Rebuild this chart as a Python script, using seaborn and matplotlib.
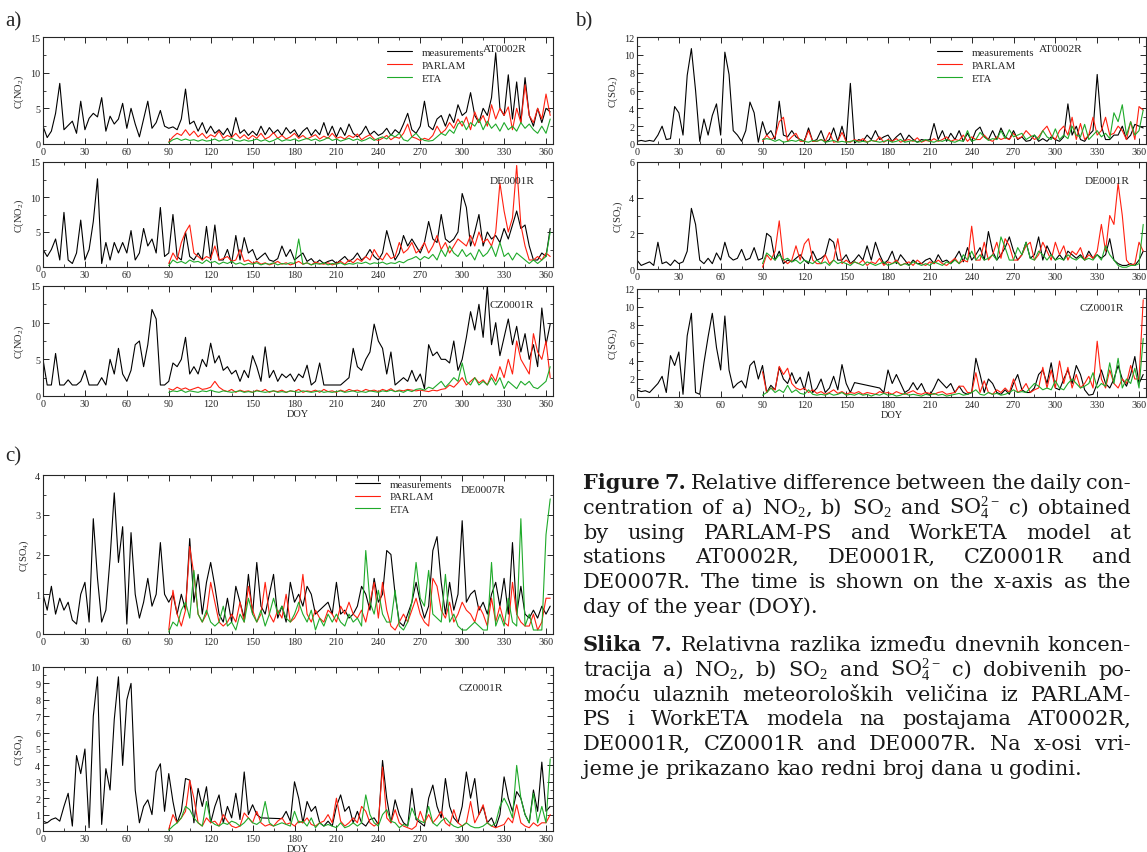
import numpy as np
import pandas as pd
import matplotlib
matplotlib.use("Agg")
import matplotlib.pyplot as plt
import seaborn as sns
from matplotlib.ticker import MultipleLocator

# ---------------- data (3-day samples) ----------------
STEP = 3
MEAS_START = 0
MODEL_START = 90
nan = np.nan

# a) NO2, AT0002R
at_no2_meas = [2.5, 0.9, 1.8, 4.3, 8.5, 2.0, 2.6, 3.2, 1.5, 6.0,
               2.0, 3.6, 4.3, 3.8, 6.5, 1.8, 3.9, 2.8, 3.5, 5.7,
               2.2, 5.0, 2.8, 1.0, 3.5, 6.0, 2.2, 3.0, 4.7, 2.5,
               2.2, 2.4, 2.0, 3.5, 7.7, 2.8, 3.2, 1.8, 3.0, 1.5,
               2.5, 1.5, 2.0, 1.3, 2.2, 1.0, 3.7, 1.5, 2.0, 1.2,
               1.8, 1.2, 2.5, 1.3, 2.3, 1.5, 2.0, 1.2, 2.3, 1.5,
               2.0, 1.0, 1.8, 2.3, 1.2, 2.0, 1.3, 3.0, 1.2, 2.5,
               1.0, 2.3, 1.2, 2.8, 1.5, 1.0, 1.5, 2.5, 1.3, 1.8,
               1.2, 1.5, 2.2, 1.2, 2.0, 1.5, 2.8, 4.3, 2.0, 1.5,
               2.5, 6.0, 2.5, 2.0, 3.5, 4.0, 2.5, 4.2, 3.0, 5.5,
               4.0, 4.5, 7.2, 4.0, 3.0, 5.0, 4.0, 6.5, 12.8, 5.0,
               4.0, 9.7, 3.5, 8.7, 3.0, 9.3, 4.0, 2.5, 5.0, 3.0,
               5.0, 4.5]
at_no2_parlam = [0.3, 1.0, 1.5, 1.2, 2.0, 1.2, 1.8, 1.0, 1.5, 0.8,
                 1.3, 1.0, 1.8, 0.8, 1.2, 0.9, 1.5, 0.8, 1.3, 0.7,
                 1.2, 0.8, 1.5, 0.7, 1.0, 1.6, 0.8, 1.2, 0.7, 1.0,
                 1.5, 0.8, 1.2, 0.7, 1.0, 1.3, 0.7, 1.1, 0.8, 1.5,
                 0.8, 1.0, 0.7, 1.2, 0.9, 1.4, 0.6, 1.0, 1.3, 0.7,
                 0.5, 0.8, 1.2, 0.6, 1.0, 0.8, 1.5, 2.8, 1.0, 0.8,
                 0.5, 0.8, 0.6, 1.2, 2.5, 1.5, 2.0, 3.0, 2.2, 3.5,
                 2.5, 3.8, 2.0, 4.5, 3.0, 4.0, 2.5, 5.5, 3.5, 5.0,
                 4.0, 5.2, 2.0, 5.0, 3.0, 8.3, 4.0, 3.0, 5.0, 3.5,
                 7.0, 4.0]
at_no2_eta = [0.2, 0.6, 0.8, 0.5, 0.7, 0.5, 0.6, 0.4, 0.6, 0.4,
              0.5, 0.7, 0.4, 0.6, 0.5, 0.8, 0.5, 0.4, 0.6, 0.4,
              0.5, 0.7, 0.4, 0.6, 0.3, 0.5, 0.8, 0.4, 0.6, 0.5,
              0.7, 0.4, 0.6, 0.8, 0.5, 0.7, 0.4, 0.6, 0.9, 0.5,
              0.7, 0.4, 0.6, 0.8, 0.5, 0.7, 0.4, 0.6, 0.9, 0.5,
              0.8, 1.0, 0.7, 1.3, 1.0, 1.5, 0.6, 0.4, 1.0, 1.5,
              0.8, 0.5, 0.4, 0.5, 1.0, 1.5, 1.2, 2.0, 1.5, 2.8,
              3.2, 2.0, 3.0, 2.5, 3.5, 2.0, 3.2, 2.2, 2.8, 1.8,
              3.0, 2.0, 2.5, 1.8, 3.0, 2.2, 2.8, 2.0, 1.5, 2.5,
              1.5, 3.5]

# a) NO2, DE0001R
de_no2_meas = [2.5, 1.5, 2.5, 4.0, 1.0, 7.8, 1.0, 0.5, 2.0, 6.7,
               1.0, 2.5, 6.5, 12.6, 0.5, 3.5, 1.0, 3.5, 2.0, 3.5,
               2.0, 5.2, 1.0, 2.0, 5.5, 3.0, 4.0, 2.0, 8.5, 1.5,
               2.0, 7.5, 1.5, 1.0, 5.0, 1.5, 1.0, 2.0, 1.0, 5.8,
               1.0, 6.0, 1.0, 1.0, 2.5, 0.5, 4.5, 1.0, 4.2, 2.0,
               2.5, 1.0, 1.5, 2.0, 1.0, 0.8, 1.2, 3.0, 1.5, 2.5,
               1.0, 1.5, 2.0, 0.8, 1.2, 0.5, 1.0, 0.5, 0.8, 1.0,
               0.5, 1.0, 1.5, 0.8, 1.2, 2.0, 1.0, 1.5, 2.5, 1.5,
               1.0, 2.0, 5.2, 3.0, 1.0, 2.0, 4.5, 3.0, 4.0, 3.0,
               2.0, 3.5, 6.5, 4.0, 3.5, 7.5, 4.0, 3.5, 4.0, 5.0,
               10.5, 8.5, 3.0, 5.0, 7.5, 3.0, 5.0, 4.0, 4.5, 3.5,
               5.5, 4.0, 6.0, 8.0, 5.5, 6.0, 3.0, 1.0, 1.0, 2.0,
               1.5, 5.5]
de_no2_parlam = [0.5, 2.0, 1.0, 3.5, 5.0, 6.0, 2.0, 1.5, 1.0, 1.5,
                 1.2, 3.0, 1.0, 1.2, 1.5, 0.8, 1.0, 2.5, 0.8, 1.0,
                 0.5, 0.8, 0.4, 0.6, 0.3, 0.5, 0.8, 0.4, 0.6, 0.3,
                 0.5, 0.8, 0.4, 0.6, 0.3, 0.7, 0.5, 0.4, 0.6, 0.3,
                 0.5, 0.8, 0.4, 1.0, 0.6, 1.2, 0.8, 1.5, 1.0, 2.5,
                 1.5, 1.0, 2.0, 1.2, 1.5, 3.5, 2.0, 2.5, 3.5, 2.0,
                 2.5, 3.5, 2.0, 3.0, 4.5, 2.5, 3.5, 2.0, 3.0, 4.0,
                 3.5, 3.0, 4.5, 3.0, 5.0, 3.5, 4.0, 3.0, 5.0, 12.0,
                 8.0, 5.0, 7.0, 14.5, 6.0, 3.0, 1.0, 1.0, 1.5, 1.0,
                 2.0, 1.5]
de_no2_eta = [0.2, 1.0, 0.6, 0.8, 0.5, 1.0, 0.7, 0.8, 0.5, 1.0,
              0.6, 0.8, 0.4, 0.7, 0.5, 0.8, 0.4, 0.6, 0.3, 0.5,
              0.4, 0.6, 0.3, 0.5, 0.4, 0.6, 0.3, 0.5, 0.4, 0.6,
              0.5, 4.0, 0.4, 0.6, 0.3, 0.5, 0.4, 0.6, 0.3, 0.5,
              0.4, 0.6, 0.3, 0.5, 0.4, 0.6, 0.5, 0.7, 0.4, 0.6,
              0.5, 0.7, 0.4, 0.6, 0.5, 0.8, 0.6, 1.0, 1.2, 1.5,
              1.0, 1.5, 1.2, 1.8, 1.0, 2.5, 1.5, 3.0, 2.0, 1.5,
              2.5, 1.5, 2.0, 1.0, 2.5, 1.5, 2.0, 3.0, 1.5, 3.5,
              1.5, 2.0, 1.0, 2.0, 1.5, 1.0, 0.5, 1.0, 0.5, 1.0,
              1.5, 5.0]

# a) NO2, CZ0001R
cz_no2_meas = [5.0, 1.5, 1.5, 5.8, 1.5, 1.5, 2.2, 1.5, 1.5, 2.0,
               3.5, 1.5, 1.5, 1.5, 2.5, 1.5, 5.0, 3.0, 6.5, 3.0,
               2.0, 3.5, 7.0, 7.5, 4.0, 7.0, 11.8, 10.5, 1.5, 1.5,
               2.0, 4.5, 4.0, 5.0, 8.0, 3.0, 4.0, 3.0, 5.0, 4.0,
               7.2, 4.5, 5.5, 3.5, 4.0, 3.0, 3.5, 2.0, 3.5, 2.5,
               5.5, 4.0, 2.0, 6.7, 2.5, 3.5, 2.0, 3.0, 2.5, 3.0,
               2.0, 3.0, 2.5, 4.2, 1.5, 2.0, 4.5, 1.5, 1.5, 1.5,
               1.5, 1.5, 2.0, 2.5, 6.5, 4.0, 3.5, 5.0, 6.0, 9.8,
               7.5, 6.5, 3.0, 6.0, 1.5, 2.0, 2.5, 2.0, 3.5, 2.0,
               3.0, 1.0, 7.0, 5.5, 6.0, 5.0, 5.0, 4.5, 7.5, 3.5,
               5.0, 8.0, 11.5, 9.0, 12.5, 8.0, 15.0, 7.0, 10.0, 5.5,
               8.0, 10.5, 7.0, 9.5, 6.0, 8.5, 5.0, 7.0, 4.0, 12.0,
               7.0, 9.8]
cz_no2_parlam = [1.0, 0.8, 1.2, 0.9, 1.1, 0.8, 1.0, 1.2, 0.9, 1.0,
                 1.2, 2.0, 1.2, 0.8, 0.6, 0.9, 0.5, 0.8, 0.6, 0.7,
                 0.5, 0.8, 0.6, 0.9, 0.5, 0.7, 0.6, 0.8, 0.5, 0.7,
                 0.6, 0.9, 0.5, 0.7, 0.6, 0.8, 0.5, 0.9, 0.6, 0.7,
                 0.5, 0.8, 0.6, 0.9, 0.7, 0.8, 0.6, 0.9, 0.7, 0.8,
                 0.6, 0.9, 0.7, 1.0, 0.6, 0.8, 0.7, 0.9, 0.8, 0.7,
                 0.8, 0.7, 0.6, 0.8, 0.7, 0.9, 1.0, 1.5, 1.2, 1.8,
                 2.5, 1.5, 2.0, 2.5, 1.8, 2.2, 1.5, 3.0, 2.0, 4.0,
                 2.5, 5.0, 3.0, 7.5, 5.0, 4.0, 3.0, 8.5, 6.0, 5.0,
                 7.5, 2.5]
cz_no2_eta = [0.5, 0.7, 0.6, 0.8, 0.5, 0.7, 0.6, 0.5, 0.7, 0.6,
              0.8, 0.6, 0.5, 0.7, 0.6, 0.5, 0.6, 0.7, 0.5, 0.6,
              0.5, 0.7, 0.6, 0.5, 0.6, 0.7, 0.5, 0.6, 0.5, 0.7,
              0.6, 0.5, 0.7, 0.6, 0.5, 0.6, 0.7, 0.5, 0.6, 0.5,
              0.6, 0.7, 0.5, 0.6, 0.7, 0.5, 0.6, 0.5, 0.7, 0.6,
              0.5, 0.7, 0.6, 0.8, 0.6, 0.7, 0.5, 0.8, 0.6, 0.9,
              1.0, 0.8, 1.2, 1.0, 1.5, 2.0, 1.2, 1.8, 2.5, 2.0,
              4.5, 2.0, 1.5, 2.5, 1.5, 2.0, 1.5, 2.5, 1.5, 2.5,
              1.0, 2.0, 1.5, 1.0, 2.0, 1.5, 2.0, 1.2, 1.0, 1.5,
              2.0, 4.0]

# b) SO2, AT0002R
at_so2_meas = [0.3, 0.4, 0.3, 0.4, 0.3, 1.0, 2.0, 0.5, 0.6, 4.2,
               3.5, 1.0, 7.7, 10.7, 6.0, 0.3, 2.8, 1.0, 3.2, 4.5,
               1.0, 10.3, 7.8, 1.5, 1.0, 0.3, 1.5, 4.7, 3.5, 0.2,
               2.5, 1.0, 1.5, 0.5, 4.8, 1.0, 0.8, 1.5, 0.8, 0.5,
               0.3, 1.8, 0.3, 0.5, 1.5, 0.2, 0.5, 1.8, 0.3, 2.0,
               0.2, 6.8, 0.1, 0.5, 0.3, 1.0, 0.5, 1.5, 0.5, 0.8,
               1.0, 0.3, 0.8, 1.2, 0.3, 1.0, 0.5, 0.2, 0.5, 0.4,
               0.5, 2.3, 0.5, 1.5, 0.3, 1.2, 0.5, 1.5, 0.3, 1.2,
               0.3, 1.5, 1.9, 0.8, 0.5, 1.5, 0.5, 1.8, 0.8, 0.5,
               1.5, 0.5, 0.8, 0.3, 0.4, 1.0, 0.3, 0.6, 0.3, 0.8,
               0.5, 0.3, 0.8, 4.5, 1.0, 2.0, 0.5, 0.3, 1.0, 1.5,
               7.8, 2.0, 0.5, 0.5, 1.0, 1.0, 2.0, 0.5, 1.0, 2.2,
               2.0, 1.8]
at_so2_parlam = [0.3, 1.0, 0.5, 0.8, 2.5, 3.0, 0.3, 0.8, 1.2, 0.3,
                 0.3, 1.5, 0.3, 0.3, 0.5, 0.3, 1.3, 0.2, 0.3, 1.3,
                 0.3, 0.2, 0.5, 0.3, 0.6, 0.2, 0.4, 0.3, 0.8, 0.2,
                 0.5, 0.3, 0.6, 0.2, 0.4, 0.5, 0.3, 0.7, 0.2, 0.4,
                 0.3, 0.6, 0.3, 0.5, 0.8, 0.3, 0.5, 0.4, 1.0, 0.3,
                 0.8, 0.5, 0.5, 1.0, 0.5, 0.3, 0.8, 0.5, 0.7, 0.5,
                 1.2, 0.6, 0.8, 1.5, 1.0, 0.5, 0.8, 1.5, 2.0, 1.0,
                 0.5, 1.5, 2.0, 1.0, 3.0, 0.5, 2.3, 0.5, 1.0, 3.0,
                 1.0, 1.5, 3.0, 1.0, 1.2, 2.0, 1.5, 0.5, 2.5, 0.5,
                 4.2, 3.8]
at_so2_eta = [0.5, 0.6, 0.5, 0.3, 0.5, 0.2, 0.3, 0.4, 0.3, 0.5,
              0.3, 0.2, 0.4, 0.3, 0.5, 0.2, 0.3, 0.4, 0.2, 0.3,
              0.2, 0.3, 0.4, 0.2, 0.3, 0.2, 0.4, 0.3, 0.2, 0.3,
              0.4, 0.2, 0.3, 0.5, 0.2, 0.3, 0.4, 0.2, 0.3, 0.5,
              0.3, 0.2, 0.4, 0.3, 0.5, 0.3, 0.2, 0.4, 0.3, 1.5,
              0.3, 0.5, 1.3, 0.8, 0.4, 0.6, 0.5, 1.5, 0.6, 1.6,
              0.8, 1.0, 1.2, 0.5, 0.8, 1.0, 0.5, 1.5, 0.8, 0.5,
              1.7, 0.5, 1.0, 0.6, 2.0, 1.0, 0.8, 2.2, 0.5, 1.0,
              1.5, 0.8, 1.2, 0.6, 3.5, 2.5, 4.4, 1.0, 2.5, 1.0,
              1.5, 3.8]

# b) SO2, DE0001R
de_so2_meas = [0.5, 0.2, 0.3, 0.4, 0.2, 1.5, 0.3, 0.4, 0.2, 0.5,
               0.3, 0.4, 1.0, 3.4, 2.5, 0.5, 0.3, 0.6, 0.3, 0.9,
               0.5, 1.5, 0.7, 0.5, 0.6, 1.1, 0.5, 0.6, 1.2, 0.5,
               0.6, 2.0, 1.8, 0.5, 1.0, 0.3, 0.5, 0.4, 0.6, 0.8,
               0.5, 0.3, 1.0, 0.5, 0.6, 0.8, 1.7, 1.5, 0.5, 0.5,
               0.8, 0.3, 0.5, 0.8, 0.5, 1.3, 0.5, 1.5, 0.8, 0.3,
               0.5, 1.0, 0.3, 0.8, 0.5, 0.2, 0.5, 0.3, 0.3, 0.5,
               0.6, 0.3, 0.8, 0.4, 0.5, 0.3, 0.6, 1.0, 0.4, 1.2,
               0.5, 0.8, 1.2, 0.5, 2.1, 1.0, 0.5, 0.8, 1.2, 1.8,
               1.0, 0.5, 0.8, 1.5, 0.6, 0.8, 1.8, 0.5, 1.3, 0.8,
               0.5, 0.8, 0.5, 1.0, 0.8, 0.6, 0.8, 0.5, 1.0, 0.6,
               0.8, 0.6, 0.8, 1.7, 0.5, 0.3, 0.2, 0.2, 0.3, 0.2,
               0.5, 1.0]
de_so2_parlam = [0.1, 0.8, 0.5, 1.0, 2.7, 0.5, 0.3, 0.5, 1.3, 0.5,
                 1.4, 1.7, 0.5, 0.3, 0.3, 0.8, 0.3, 0.5, 1.7, 0.3,
                 0.5, 0.3, 0.4, 0.3, 0.5, 0.2, 0.4, 0.3, 0.6, 0.2,
                 0.4, 0.3, 0.5, 0.2, 0.3, 0.4, 0.2, 0.5, 0.3, 0.2,
                 0.4, 0.3, 0.5, 0.3, 0.2, 0.4, 0.6, 0.3, 0.5, 0.4,
                 2.4, 0.5, 0.5, 1.5, 0.5, 0.8, 1.5, 0.6, 1.7, 1.3,
                 0.5, 0.5, 0.8, 1.3, 1.5, 0.5, 0.8, 1.5, 1.0, 0.5,
                 1.5, 0.8, 1.3, 0.5, 1.0, 0.8, 1.2, 0.5, 0.8, 0.6,
                 1.0, 2.5, 1.0, 3.0, 2.5, 4.8, 3.0, 0.5, 0.2, 0.3,
                 1.5, 1.0]
de_so2_eta = [0.3, 0.9, 0.7, 0.5, 0.8, 0.5, 0.6, 0.4, 0.5, 0.3,
              0.5, 0.4, 0.3, 0.5, 0.3, 0.4, 0.2, 0.5, 0.3, 0.4,
              0.3, 0.2, 0.4, 0.3, 0.2, 0.4, 0.3, 0.2, 0.3, 0.4,
              0.2, 0.3, 0.4, 0.2, 0.3, 0.2, 0.4, 0.3, 0.2, 0.3,
              0.2, 0.4, 0.3, 0.2, 0.4, 0.3, 0.5, 0.3, 0.8, 0.5,
              1.0, 0.5, 0.8, 0.5, 0.6, 0.8, 0.5, 1.8, 1.2, 0.5,
              0.5, 1.2, 0.8, 1.5, 0.6, 0.5, 1.0, 0.8, 0.5, 0.8,
              0.5, 0.6, 0.5, 0.8, 0.6, 0.5, 0.7, 0.5, 0.6, 0.5,
              0.8, 0.5, 1.3, 0.8, 0.5, 0.2, 0.1, 0.1, 0.2, 0.2,
              0.3, 2.5]

# b) SO2, CZ0001R (nan = missing days)
cz_so2_meas = [0.8, 0.6, 0.7, 0.5, 1.0, 1.5, 2.3, 0.5, 4.6, 3.5,
               5.0, 0.3, 6.8, 9.3, 0.5, 0.3, 3.8, 6.7, 9.3, 5.5,
               3.0, 9.0, 3.0, 1.0, 1.5, 1.8, 1.0, 3.5, 4.0, 2.0,
               3.5, 0.5, 1.3, 0.8, 3.3, 2.0, 1.5, 2.7, 1.5, 2.2,
               0.8, 2.8, 0.5, 1.0, 2.0, 0.5, 1.0, 2.3, 0.8, 3.6,
               1.5, 0.5, 1.6, nan, nan, nan, nan, nan, 1.0, 0.5,
               3.0, 1.5, 2.5, 1.5, 0.5, 0.8, 1.6, 0.8, 1.5, 0.5,
               0.2, 1.0, 2.0, 1.5, 1.0, 1.5, 0.5, 1.2, 0.5, 0.3,
               0.5, 4.3, 2.5, 0.5, 2.0, 1.5, 0.5, 0.3, 0.8, 0.3,
               1.5, 2.5, 0.8, 0.5, 0.5, 1.0, 2.5, 3.0, 1.5, 3.8,
               1.0, 0.8, 2.0, 3.0, 1.5, 3.5, 2.5, 0.8, 0.2, 0.3,
               1.5, 3.0, 1.5, 1.0, 2.0, 3.5, 2.0, 1.2, 2.5, 4.5,
               1.5, 2.5]
cz_so2_parlam = [2.8, 0.5, 1.0, 0.8, 3.4, 2.5, 3.2, 1.5, 1.0, 0.8,
                 1.0, 0.5, 0.8, 0.4, 0.6, 0.3, 0.5, 0.8, 0.4, 0.6,
                 0.3, 0.5, 0.4, 0.6, 0.3, 0.5, 0.4, 0.3, 0.6, 0.4,
                 0.5, 0.3, 0.6, 0.4, 0.3, 0.5, 0.7, 0.4, 0.3, 0.5,
                 0.4, 0.3, 0.5, 0.6, 0.3, 0.4, 0.5, 1.2, 1.2, 0.5,
                 0.5, 2.7, 0.5, 1.8, 0.5, 0.3, 0.8, 0.5, 1.0, 0.5,
                 2.0, 0.5, 0.8, 1.5, 0.5, 0.8, 1.0, 3.3, 1.0, 3.0,
                 1.0, 4.0, 1.5, 3.3, 1.0, 2.5, 1.0, 1.5, 2.3, 1.0,
                 6.2, 2.0, 1.0, 3.0, 1.5, 1.0, 2.0, 1.5, 3.5, 2.0,
                 2.0, 10.8]
cz_so2_eta = [0.2, 0.5, 1.0, 0.5, 0.8, 0.5, 1.3, 0.5, 0.8, 0.4,
              0.3, 0.8, 0.3, 0.2, 0.3, 0.2, 0.4, 0.2, 0.3, 0.5,
              0.2, 0.3, 0.2, 0.4, 0.2, 0.3, 0.1, 0.3, 0.2, 0.4,
              0.2, 0.3, 0.1, 0.2, 0.4, 0.2, 0.3, 0.2, 0.1, 0.3,
              0.2, 0.4, 0.2, 0.3, 0.1, 0.2, 0.3, 0.4, 0.2, 0.3,
              0.5, 0.8, 0.3, 0.2, 0.5, 0.3, 0.4, 0.2, 0.3, 0.5,
              0.8, 0.5, 0.6, 0.5, 1.0, 1.5, 1.2, 0.8, 1.0, 0.8,
              1.8, 1.0, 0.8, 1.5, 2.0, 1.5, 1.0, 1.2, 1.5, 2.7,
              1.0, 1.5, 1.2, 3.8, 1.5, 4.3, 1.0, 2.0, 1.5, 3.2,
              1.0, 6.5]

# c) SO4, DE0007R
de_so4_meas = [1.0, 0.6, 1.2, 0.5, 0.9, 0.6, 0.8, 0.35, 0.25, 1.0,
               1.3, 0.3, 2.9, 1.4, 0.3, 0.6, 1.9, 3.55, 1.8, 2.7,
               0.25, 2.55, 1.0, 0.4, 0.8, 1.4, 0.7, 1.0, 2.3, 1.0,
               0.8, 1.0, 0.5, 1.0, 0.6, 2.4, 0.8, 1.5, 0.5, 1.3,
               1.8, 1.2, 0.5, 0.3, 0.9, 0.3, 1.2, 0.8, 0.4, 1.5,
               0.5, 1.8, 0.7, 0.5, 1.0, 1.5, 0.4, 0.7, 0.3, 1.3,
               0.8, 1.0, 0.7, 1.2, 1.0, 0.5, 0.6, 0.7, 0.8, 0.5,
               1.3, 0.5, 0.6, 0.4, 0.5, 0.7, 1.2, 1.0, 0.6, 1.4,
               0.8, 1.0, 2.1, 2.0, 1.0, 0.3, 0.2, 0.5, 0.8, 1.3,
               0.8, 0.4, 0.7, 2.1, 2.45, 1.3, 0.5, 1.3, 0.6, 1.0,
               2.85, 0.8, 1.0, 1.1, 0.6, 0.8, 0.5, 1.0, 1.3, 0.7,
               1.4, 0.5, 2.3, 0.5, 1.2, 0.5, 0.4, 0.6, 0.4, 0.7,
               0.5, 0.7]
de_so4_parlam = [0.1, 1.1, 0.5, 0.2, 0.6, 2.2, 1.5, 0.5, 0.3, 0.5,
                 1.3, 0.8, 0.3, 0.2, 0.3, 0.5, 0.3, 0.8, 0.3, 1.2,
                 0.6, 0.3, 0.5, 1.3, 0.5, 0.3, 0.6, 0.4, 1.0, 0.3,
                 0.4, 0.6, 1.5, 0.5, 0.3, 0.6, 0.4, 0.3, 0.6, 0.5,
                 0.3, 0.7, 0.5, 0.8, 0.5, 0.4, 0.6, 0.3, 0.8, 1.3,
                 0.4, 1.3, 0.6, 0.2, 0.1, 0.3, 0.5, 0.3, 0.6, 0.9,
                 0.5, 0.3, 0.2, 1.4, 1.2, 0.6, 0.4, 0.8, 0.3, 0.5,
                 0.8, 0.6, 0.5, 0.3, 0.7, 0.5, 0.2, 0.9, 0.3, 0.7,
                 0.3, 0.2, 1.3, 0.5, 0.3, 0.2, 0.2, 0.5, 0.1, 0.3,
                 0.9, 0.9]
de_so4_eta = [0.05, 0.3, 0.2, 0.6, 0.8, 0.4, 1.6, 0.5, 0.3, 0.6,
              0.3, 0.2, 0.3, 0.7, 0.2, 0.3, 0.1, 0.5, 0.3, 0.9,
              0.5, 0.3, 0.6, 0.2, 0.5, 0.9, 0.5, 0.7, 0.4, 0.3,
              0.5, 0.8, 0.5, 0.3, 0.6, 0.1, 0.4, 0.2, 0.5, 0.3,
              0.5, 0.3, 0.2, 0.5, 0.3, 0.4, 0.2, 2.1, 0.8, 0.5,
              1.1, 0.5, 0.3, 0.3, 1.1, 0.2, 0.1, 0.3, 0.8, 1.8,
              0.9, 0.7, 1.6, 0.5, 0.4, 0.3, 1.5, 0.3, 0.5, 0.2,
              0.1, 0.1, 0.2, 0.3, 0.2, 0.1, 0.1, 1.8, 0.2, 0.5,
              0.2, 0.9, 0.3, 0.2, 2.9, 0.2, 0.5, 0.1, 0.1, 0.1,
              2.5, 3.4]

# c) SO4, CZ0001R (nan = missing days)
cz_so4_meas = [0.6, 0.5, 0.7, 0.8, 0.6, 1.5, 2.3, 0.3, 4.6, 3.5,
               5.0, 0.2, 7.0, 9.4, 0.4, 3.8, 2.5, 6.8, 9.4, 4.0,
               8.0, 9.0, 2.5, 0.5, 1.5, 1.9, 1.0, 3.6, 4.1, 1.2,
               3.5, 1.8, 0.5, 1.2, 3.2, 3.1, 0.5, 2.6, 1.5, 2.7,
               0.5, 1.5, 2.2, 0.5, 1.5, 0.8, 2.3, 0.7, 3.6, 1.0,
               1.6, 1.0, 0.8, nan, nan, nan, nan, 0.75, 1.2, 0.6,
               3.0, 2.0, 0.5, 1.8, 1.2, 1.5, 0.5, 0.3, 0.6, 0.3,
               1.5, 2.2, 1.2, 1.5, 0.5, 1.2, 0.5, 0.3, 0.7, 0.8,
               0.4, 4.3, 2.0, 0.5, 1.9, 1.0, 0.5, 0.3, 2.6, 0.7,
               0.5, 0.3, 2.0, 2.8, 1.5, 0.8, 3.2, 1.5, 0.8, 0.5,
               1.5, 3.6, 2.0, 3.2, 1.0, 1.5, 0.5, 0.8, 0.2, 1.0,
               3.3, 2.0, 1.2, 2.4, 2.0, 1.0, 0.5, 2.5, 1.2, 4.2,
               1.2, 1.5]
cz_so4_parlam = [0.1, 1.0, 0.5, 0.8, 1.2, 3.1, 2.0, 0.5, 0.3, 0.8,
                 0.5, 0.6, 0.3, 1.0, 0.6, 0.3, 0.2, 0.3, 1.1, 0.8,
                 0.5, 1.2, 0.5, 0.3, 0.4, 0.3, 0.6, 0.8, 0.4, 0.5,
                 0.3, 0.6, 0.5, 0.8, 0.4, 0.3, 0.5, 0.6, 1.0, 0.5,
                 2.0, 0.6, 0.3, 0.5, 0.8, 0.5, 1.5, 1.2, 0.5, 0.3,
                 0.5, 3.9, 0.8, 0.5, 1.3, 0.5, 0.3, 0.2, 0.1, 0.3,
                 1.2, 0.5, 1.0, 0.5, 0.8, 1.2, 0.5, 0.3, 1.3, 0.5,
                 0.3, 0.5, 1.8, 0.5, 1.0, 1.6, 0.5, 0.3, 0.2, 0.3,
                 0.4, 0.8, 0.5, 1.6, 0.5, 0.3, 0.2, 0.5, 0.3, 0.5,
                 0.5, 1.0]
cz_so4_eta = [0.05, 0.3, 0.5, 0.8, 1.5, 1.3, 0.8, 0.5, 0.3, 1.8,
              0.6, 0.4, 0.3, 0.5, 0.4, 0.6, 0.5, 0.3, 0.5, 0.8,
              0.5, 0.4, 0.6, 1.8, 0.5, 0.3, 0.4, 0.5, 0.4, 0.3,
              1.2, 0.5, 0.6, 0.3, 0.8, 0.2, 0.5, 0.3, 0.4, 0.3,
              0.2, 0.5, 0.2, 0.3, 0.5, 0.3, 0.5, 2.2, 1.0, 0.5,
              0.3, 1.0, 1.3, 0.6, 0.5, 0.2, 0.4, 0.3, 1.4, 0.8,
              0.6, 0.5, 1.5, 0.5, 0.3, 0.6, 0.8, 0.5, 0.3, 0.2,
              0.3, 0.5, 0.3, 0.2, 0.2, 0.3, 0.5, 0.3, 0.5, 1.5,
              2.0, 1.5, 0.8, 4.0, 2.0, 1.0, 0.5, 2.3, 0.5, 1.5,
              0.5, 4.4]

x_ticks = [0, 30, 60, 90, 120, 150, 180, 210, 240, 270, 300, 330, 360]
series_labels = ["measurements", "PARLAM", "ETA"]
series_colors = ["#000000", "#ff2010", "#1faa2a"]

caption_en = [
    [("Figure", "bold"), ("7.", "bold"), "Relative", "difference", "between", "the", "daily", "con-"],
    ["centration", "of", "a)", r"NO$_2$,", "b)", r"SO$_2$", "and", r"SO$_4^{2-}$", "c)", "obtained"],
    ["by", "using", "PARLAM-PS", "and", "WorkETA", "model", "at"],
    ["stations", "AT0002R,", "DE0001R,", "CZ0001R", "and"],
    ["DE0007R.", "The", "time", "is", "shown", "on", "the", "x-axis", "as", "the"],
    ["day", "of", "the", "year", "(DOY)."],
]
caption_hr = [
    [("Slika", "bold"), ("7.", "bold"), "Relativna", "razlika", "između", "dnevnih", "koncen-"],
    ["tracija", "a)", r"NO$_2$,", "b)", r"SO$_2$", "and", r"SO$_4^{2-}$", "c)", "dobivenih", "po-"],
    ["moću", "ulaznih", "meteoroloških", "veličina", "iz", "PARLAM-"],
    ["PS", "i", "WorkETA", "modela", "na", "postajama", "AT0002R,"],
    ["DE0001R,", "CZ0001R", "and", "DE0007R.", "Na", "x-osi", "vri-"],
    ["jeme", "je", "prikazano", "kao", "redni", "broj", "dana", "u", "godini."],
]

# ---------------- style ----------------
sns.set_style("ticks")
plt.rcParams["font.family"] = ["Liberation Serif", "DejaVu Serif"]
plt.rcParams["mathtext.fontset"] = "custom"
plt.rcParams["mathtext.rm"] = "Liberation Serif"
plt.rcParams["mathtext.it"] = "Liberation Serif:italic"
plt.rcParams["mathtext.bf"] = "Liberation Serif:bold"
plt.rcParams["axes.linewidth"] = 0.8

W, H = 1147, 853
fig = plt.figure(figsize=(W / 100, H / 100), dpi=100)


def frame(values, start):
    v = np.asarray(values, dtype=float)
    d = start + STEP * np.arange(len(v))
    return pd.DataFrame({"DOY": d, "C": v}).dropna()


def rect(left, top, right, bottom):
    return [left / W, 1 - bottom / H, (right - left) / W, (bottom - top) / H]


panels = [
    # rect, meas, parlam, eta, ymax, ymaj, ymin, ylabel, station, (sx, sy), legend, xlabel
    (rect(43, 38, 553, 145), at_no2_meas, at_no2_parlam, at_no2_eta, 15, 5, 2.5,
     r"C(NO$_2$)", "AT0002R", (0.862, 0.935), (0.675, 0.90), False),
    (rect(43, 163, 553, 268), de_no2_meas, de_no2_parlam, de_no2_eta, 15, 5, 2.5,
     r"C(NO$_2$)", "DE0001R", (0.875, 0.87), None, False),
    (rect(43, 287, 553, 397), cz_no2_meas, cz_no2_parlam, cz_no2_eta, 15, 5, 2.5,
     r"C(NO$_2$)", "CZ0001R", (0.875, 0.87), None, True),
    (rect(637, 38, 1146, 145), at_so2_meas, at_so2_parlam, at_so2_eta, 12, 2, 1,
     r"C(SO$_2$)", "AT0002R", (0.79, 0.935), (0.59, 0.90), False),
    (rect(637, 163, 1146, 270), de_so2_meas, de_so2_parlam, de_so2_eta, 6, 2, 1,
     r"C(SO$_2$)", "DE0001R", (0.88, 0.87), None, False),
    (rect(637, 290, 1146, 398), cz_so2_meas, cz_so2_parlam, cz_so2_eta, 12, 2, 1,
     r"C(SO$_2$)", "CZ0001R", (0.87, 0.87), None, True),
    (rect(43, 476, 553, 635), de_so4_meas, de_so4_parlam, de_so4_eta, 4, 1, 0.5,
     r"C(SO$_4$)", "DE0007R", (0.82, 0.935), (0.612, 0.975), False),
    (rect(43, 668, 553, 832), cz_so4_meas, cz_so4_parlam, cz_so4_eta, 10, 1, 0.5,
     r"C(SO$_4$)", "CZ0001R", (0.815, 0.90), None, True),
]

for (r, meas, par, eta, ymax, ymaj, ymin, ylab, station, spos, legpos, xlab) in panels:
    ax = fig.add_axes(r)
    for vals, start, lab, col in zip([meas, par, eta], [MEAS_START, MODEL_START, MODEL_START],
                                     series_labels, series_colors):
        sns.lineplot(data=frame(vals, start), x="DOY", y="C", color=col, linewidth=0.8,
                     label=lab, ax=ax, legend=False)
    ax.set_xlim(0, 365)
    ax.set_ylim(0, ymax)
    ax.set_xticks(x_ticks)
    ax.xaxis.set_minor_locator(MultipleLocator(15))
    ax.yaxis.set_major_locator(MultipleLocator(ymaj))
    ax.yaxis.set_minor_locator(MultipleLocator(ymin))
    ax.tick_params(which="major", direction="in", top=True, right=True, length=4,
                   width=0.7, labelsize=7.3, pad=2)
    ax.tick_params(which="minor", direction="in", top=True, right=True, length=2, width=0.6)
    ax.set_ylabel(ylab, fontsize=7.5, labelpad=3)
    ax.set_xlabel("DOY" if xlab else "", fontsize=7.5, labelpad=1)
    ax.text(spos[0], spos[1], station, transform=ax.transAxes, fontsize=8.2, va="top")
    if legpos is not None:
        ax.legend(loc="upper left", bbox_to_anchor=legpos, frameon=False, fontsize=7.8,
                  handlelength=2.3, handletextpad=0.9, labelspacing=0.3, borderaxespad=0,
                  borderpad=0)

fig.text(5 / W, 1 - 22 / H, "a)", fontsize=15, va="center", ha="left")
fig.text(575 / W, 1 - 22 / H, "b)", fontsize=15, va="center", ha="left")
fig.text(5 / W, 1 - 457 / H, "c)", fontsize=15, va="center", ha="left")

# ---------------- justified caption ----------------
renderer = fig.canvas.get_renderer()
X0, X1 = 583, 1131
FS = 15
CAP_FONT = ["DejaVu Serif"]


def draw_caption_line(tokens, baseline_px, justify):
    objs = []
    for tok in tokens:
        txt, wt = (tok if isinstance(tok, tuple) else (tok, "normal"))
        t = fig.text(0, 1 - baseline_px / H, txt, fontsize=FS, fontweight=wt,
                     family=CAP_FONT, va="baseline", ha="left", color="#1a1a1a")
        objs.append(t)
    widths = [t.get_window_extent(renderer).width for t in objs]
    natural = FS * 0.3 * 100 / 72
    if justify and len(objs) > 1:
        gap = (X1 - X0 - sum(widths)) / (len(objs) - 1)
    else:
        gap = natural
        if len(objs) > 1:
            gap = min(gap, (X1 - X0 - sum(widths)) / (len(objs) - 1))
    x = X0
    for t, w in zip(objs, widths):
        t.set_x(x / W)
        x += w + gap


for i, line in enumerate(caption_en):
    draw_caption_line(line, 489 + i * 24.8, justify=(i < len(caption_en) - 1))
for i, line in enumerate(caption_hr):
    draw_caption_line(line, 651 + i * 24.8, justify=(i < len(caption_hr) - 1))

fig.savefig("out.png", dpi=100)
